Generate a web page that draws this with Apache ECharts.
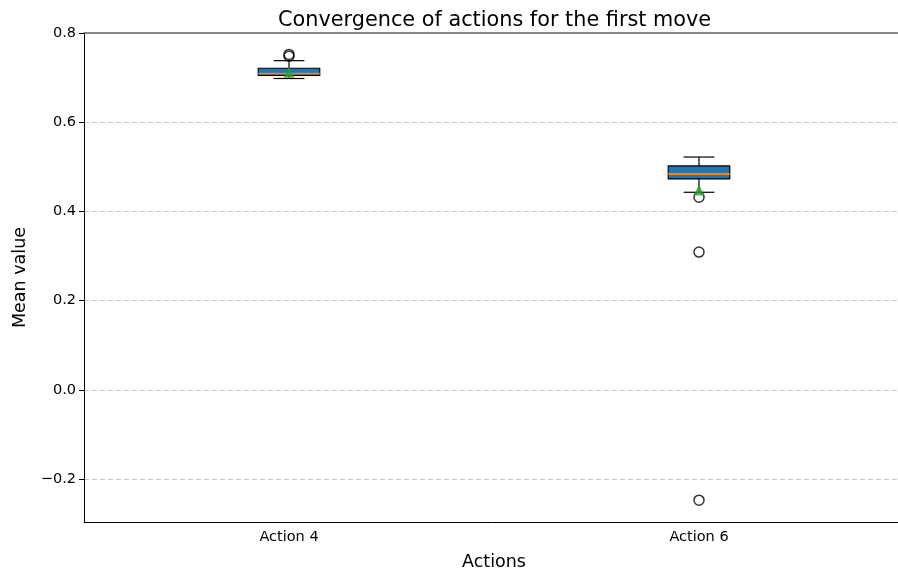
<!DOCTYPE html>
<html>
<head>
<meta charset="utf-8">
<script src="https://cdn.jsdelivr.net/npm/echarts@6/dist/echarts.min.js"></script>
<style>
  html, body { margin: 0; padding: 0; background: #fff; }
  #chart { width: 898px; height: 579px; }
</style>
</head>
<body>
<div id="chart"></div>
<script>
// box statistics per action
const categories = ['Action 4', 'Action 6'];
const lowerWhisker = [0.698, 0.443];
const q1 = [0.705, 0.473];
const median = [0.709, 0.484];
const q3 = [0.721, 0.502];
const upperWhisker = [0.738, 0.522];
const means = [0.712, 0.448];
const outliers = [[0, 0.748], [0, 0.752], [1, 0.432], [1, 0.309], [1, -0.247]];
const yTicks = [-0.2, 0, 0.2, 0.4, 0.6, 0.8];

const font = 'DejaVu Sans';

const boxData = categories.map((c, i) => [i, lowerWhisker[i], q1[i], median[i], q3[i], upperWhisker[i]]);

function renderBox(params, api) {
  const i = api.value(0);
  const band = api.size([1, 0])[0];
  const half = band * 0.075;
  const cap = half / 2;
  const lo = api.coord([i, api.value(1)]);
  const b1 = api.coord([i, api.value(2)]);
  const md = api.coord([i, api.value(3)]);
  const b3 = api.coord([i, api.value(4)]);
  const hi = api.coord([i, api.value(5)]);
  const x = lo[0];
  const black = { stroke: '#000', lineWidth: 1.2 };
  return {
    type: 'group',
    children: [
      { type: 'line', shape: { x1: x, y1: lo[1], x2: x, y2: b1[1] }, style: black },
      { type: 'line', shape: { x1: x, y1: b3[1], x2: x, y2: hi[1] }, style: black },
      { type: 'line', shape: { x1: x - cap, y1: lo[1], x2: x + cap, y2: lo[1] }, style: black },
      { type: 'line', shape: { x1: x - cap, y1: hi[1], x2: x + cap, y2: hi[1] }, style: black },
      { type: 'rect', shape: { x: x - half, y: b3[1], width: half * 2, height: b1[1] - b3[1] },
        style: { fill: '#1f77b4', stroke: '#000', lineWidth: 1.2 } },
      { type: 'line', shape: { x1: x - half, y1: md[1], x2: x + half, y2: md[1] },
        style: { stroke: '#ff7f0e', lineWidth: 1.8 } }
    ]
  };
}

const chart = echarts.init(document.getElementById('chart'));
chart.setOption({
  animation: false,
  title: {
    text: 'Convergence of actions for the first move',
    left: 273,
    top: 5,
    textStyle: { fontFamily: font, fontSize: 20.8, fontWeight: 'normal', color: '#000' }
  },
  grid: { left: 84, width: 820, top: 33, bottom: 57, outerBoundsMode: 'none' },
  xAxis: [
    {
      type: 'category',
      data: categories,
      name: 'Actions',
      nameLocation: 'middle',
      nameGap: 31,
      nameTextStyle: { fontFamily: font, fontSize: 17.5, color: '#000' },
      axisLine: { onZero: false, lineStyle: { color: '#000', width: 1 } },
      axisTick: { alignWithLabel: true, length: 4, lineStyle: { color: '#000' } },
      axisLabel: { fontFamily: font, fontSize: 14.5, color: '#000', margin: 8 },
      splitLine: { show: false }
    },
    {
      type: 'category',
      data: categories,
      position: 'top',
      axisLine: { onZero: false, lineStyle: { color: '#666', width: 1.5 } },
      axisTick: { show: false },
      axisLabel: { show: false }
    }
  ],
  yAxis: {
    type: 'value',
    min: -0.296,
    max: 0.8,
    name: 'Mean value',
    nameLocation: 'middle',
    nameGap: 54,
    nameTextStyle: { fontFamily: font, fontSize: 17.5, color: '#000' },
    axisLine: { show: true, onZero: false, lineStyle: { color: '#000', width: 1 } },
    axisTick: { show: true, length: 5, customValues: yTicks, lineStyle: { color: '#000', width: 1 } },
    axisLabel: {
      fontFamily: font, fontSize: 14.5, color: '#000', margin: 8,
      customValues: yTicks,
      formatter: v => (v < 0 ? '\u2212' : '') + Math.abs(v).toFixed(1)
    },
    splitLine: { show: true, lineStyle: { color: '#c8c8c8', type: [5, 3], width: 1 } }
  },
  series: [
    {
      type: 'custom',
      renderItem: renderBox,
      data: boxData,
      encode: { x: 0, y: [1, 2, 3, 4, 5] },
      z: 3
    },
    {
      type: 'scatter',
      data: outliers,
      symbol: 'circle',
      symbolSize: 10,
      itemStyle: { color: 'rgba(0,0,0,0)', borderColor: '#000', borderWidth: 1.5 },
      z: 4
    },
    {
      type: 'scatter',
      data: means.map((m, i) => [i, m]),
      symbol: 'triangle',
      symbolSize: 11,
      itemStyle: { color: '#2ca02c' },
      z: 5
    }
  ]
});
</script>
</body>
</html>
